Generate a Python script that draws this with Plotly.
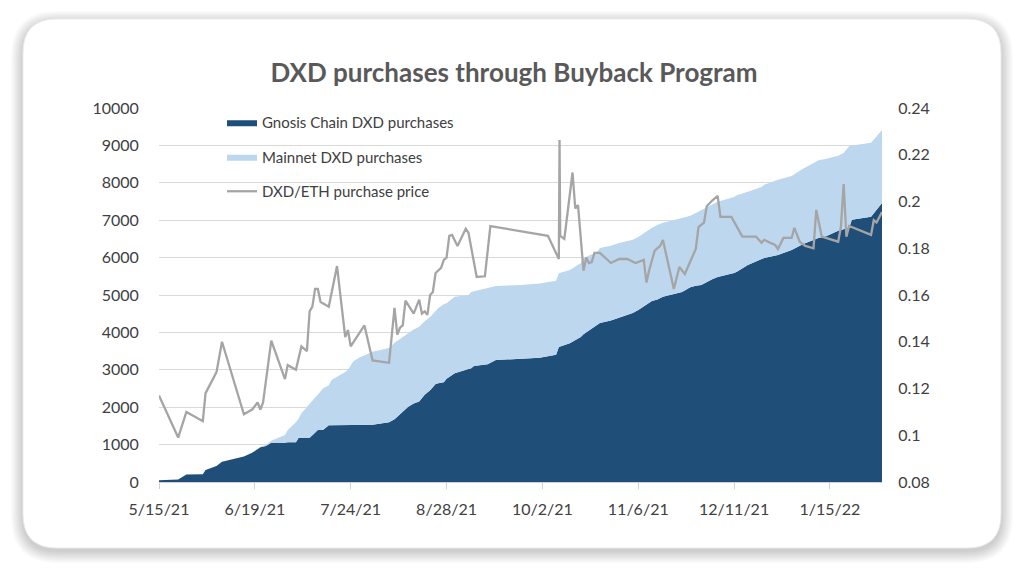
import plotly.graph_objects as go

# Cumulative purchases (DXD), stacked: Gnosis Chain below, Mainnet on top
area_dates = [
    "2021-05-15", "2021-05-18", "2021-05-22", "2021-05-25", "2021-05-31",
    "2021-06-01", "2021-06-05", "2021-06-07", "2021-06-11", "2021-06-15",
    "2021-06-18", "2021-06-21", "2021-06-23", "2021-06-25", "2021-06-30",
    "2021-07-01", "2021-07-04", "2021-07-05", "2021-07-06", "2021-07-09",
    "2021-07-10", "2021-07-12", "2021-07-14", "2021-07-16", "2021-07-17",
    "2021-07-22", "2021-07-23", "2021-07-25", "2021-07-27", "2021-08-01",
    "2021-08-07", "2021-08-09", "2021-08-14", "2021-08-16", "2021-08-18",
    "2021-08-20", "2021-08-22", "2021-08-24", "2021-08-25", "2021-08-27",
    "2021-08-28", "2021-08-31", "2021-09-05", "2021-09-06", "2021-09-07",
    "2021-09-09", "2021-09-12", "2021-09-15", "2021-09-24", "2021-10-01",
    "2021-10-07", "2021-10-08", "2021-10-12", "2021-10-16", "2021-10-17",
    "2021-10-22", "2021-10-23", "2021-10-27", "2021-10-30", "2021-11-04",
    "2021-11-06", "2021-11-11", "2021-11-13", "2021-11-15", "2021-11-22",
    "2021-11-25", "2021-11-27", "2021-11-29", "2021-12-03", "2021-12-05",
    "2021-12-11", "2021-12-12", "2021-12-16", "2021-12-21", "2021-12-22",
    "2021-12-27", "2022-01-01", "2022-01-04", "2022-01-05", "2022-01-11",
    "2022-01-13", "2022-01-18", "2022-01-20", "2022-01-22", "2022-01-23",
    "2022-01-30", "2022-02-03",
]
gnosis = [
    50, 60, 70, 200, 210,
    320, 430, 540, 610, 680,
    780, 930, 960, 1050, 1050,
    1060, 1060, 1180, 1180, 1180,
    1250, 1390, 1400, 1520, 1520,
    1520, 1520, 1520, 1520, 1530,
    1600, 1680, 2010, 2100, 2150,
    2330, 2450, 2620, 2640, 2670,
    2760, 2910, 3020, 3040, 3100,
    3120, 3150, 3260, 3290, 3320,
    3400, 3610, 3710, 3880, 3950,
    4220, 4250, 4320, 4400, 4520,
    4600, 4840, 4880, 4950, 5080,
    5210, 5250, 5270, 5420, 5480,
    5590, 5620, 5800, 5960, 5990,
    6070, 6200, 6320, 6360, 6530,
    6550, 6720, 6770, 6800, 7010,
    7090, 7460,
]
total = [
    50, 60, 70, 200, 210,
    320, 430, 540, 610, 680,
    780, 940, 990, 1100, 1260,
    1390, 1600, 1700, 1840, 2100,
    2190, 2350, 2510, 2590, 2730,
    2940, 3000, 3230, 3320, 3480,
    3580, 3720, 3980, 4080, 4150,
    4300, 4410, 4560, 4650, 4750,
    4780, 4950, 5000, 5080, 5100,
    5130, 5180, 5240, 5270, 5310,
    5380, 5580, 5670, 5850, 5990,
    6150, 6260, 6320, 6390, 6480,
    6550, 6800, 6870, 6930, 7060,
    7120, 7190, 7270, 7410, 7490,
    7620, 7670, 7760, 7890, 7950,
    8080, 8180, 8340, 8370, 8610,
    8630, 8720, 8800, 8980, 9000,
    9070, 9410,
]
mainnet = [t - g for t, g in zip(total, gnosis)]

# DXD/ETH purchase price (right axis)
price_dates = [
    "2021-05-15", "2021-05-22", "2021-05-25", "2021-05-31", "2021-06-01",
    "2021-06-05", "2021-06-07", "2021-06-15", "2021-06-18", "2021-06-20",
    "2021-06-21", "2021-06-22", "2021-06-25", "2021-06-30", "2021-07-01",
    "2021-07-04", "2021-07-06", "2021-07-08", "2021-07-09", "2021-07-10",
    "2021-07-11", "2021-07-12", "2021-07-13", "2021-07-16", "2021-07-19",
    "2021-07-22", "2021-07-23", "2021-07-24", "2021-07-29", "2021-08-01",
    "2021-08-07", "2021-08-09", "2021-08-10", "2021-08-11", "2021-08-12",
    "2021-08-13", "2021-08-16", "2021-08-18", "2021-08-19", "2021-08-20",
    "2021-08-21", "2021-08-22", "2021-08-23", "2021-08-24", "2021-08-26",
    "2021-08-27", "2021-08-28", "2021-08-29", "2021-08-30", "2021-09-01",
    "2021-09-04", "2021-09-05", "2021-09-08", "2021-09-11", "2021-09-13",
    "2021-10-04", "2021-10-08", "2021-10-08 06:00", "2021-10-08 12:00",
    "2021-10-10", "2021-10-13", "2021-10-14", "2021-10-15", "2021-10-17",
    "2021-10-18", "2021-10-19", "2021-10-20", "2021-10-21", "2021-10-23",
    "2021-10-27", "2021-10-30", "2021-11-02", "2021-11-05", "2021-11-08",
    "2021-11-09", "2021-11-10", "2021-11-12", "2021-11-14", "2021-11-15",
    "2021-11-19", "2021-11-21", "2021-11-23", "2021-11-27", "2021-11-28",
    "2021-11-30", "2021-12-01", "2021-12-03", "2021-12-05", "2021-12-06",
    "2021-12-10", "2021-12-14", "2021-12-19", "2021-12-21", "2021-12-22",
    "2021-12-24", "2021-12-26", "2021-12-27", "2021-12-29", "2022-01-01",
    "2022-01-02", "2022-01-04", "2022-01-06", "2022-01-09", "2022-01-10",
    "2022-01-12", "2022-01-18", "2022-01-19", "2022-01-20", "2022-01-21",
    "2022-01-22", "2022-01-30", "2022-01-31", "2022-02-01", "2022-02-03",
]
price = [
    0.117, 0.099, 0.110, 0.106, 0.118,
    0.127, 0.140, 0.109, 0.111, 0.114,
    0.111, 0.114, 0.1405, 0.124, 0.130,
    0.128, 0.138, 0.136, 0.153, 0.155,
    0.1626, 0.1626, 0.157, 0.155, 0.1724,
    0.142, 0.145, 0.138, 0.147, 0.132,
    0.131, 0.1545, 0.143, 0.146, 0.147,
    0.1576, 0.152, 0.158, 0.152, 0.153,
    0.1515, 0.160, 0.1613, 0.1694, 0.1716,
    0.175, 0.176, 0.1853, 0.1857, 0.181,
    0.1883, 0.1866, 0.1677, 0.168, 0.1895,
    0.1853, 0.1754, 0.2263, 0.1853,
    0.184, 0.2124, 0.197, 0.1985, 0.1704,
    0.176, 0.1737, 0.1741, 0.178, 0.178,
    0.1737, 0.1754, 0.1754, 0.1737, 0.175,
    0.1653, 0.1707, 0.179, 0.181, 0.1835,
    0.1626, 0.172, 0.169, 0.1797, 0.189,
    0.191, 0.198, 0.2004, 0.2024, 0.1934,
    0.1934, 0.185, 0.185, 0.1823, 0.1836,
    0.1824, 0.1814, 0.1797, 0.1844, 0.1844,
    0.1887, 0.1827, 0.181, 0.180, 0.1964,
    0.185, 0.1828, 0.1892, 0.2075, 0.1849,
    0.1895, 0.1857, 0.192, 0.191, 0.1955,
]

x_tickvals = ["2021-05-15", "2021-06-19", "2021-07-24", "2021-08-28",
              "2021-10-02", "2021-11-06", "2021-12-11", "2022-01-15"]
x_ticktext = ["5/15/21", "6/19/21", "7/24/21", "8/28/21",
              "10/2/21", "11/6/21", "12/11/21", "1/15/22"]
y2_tickvals = [0.08, 0.10, 0.12, 0.14, 0.16, 0.18, 0.20, 0.22, 0.24]
y2_ticktext = ["0.08", "0.1", "0.12", "0.14", "0.16", "0.18", "0.2", "0.22", "0.24"]

navy = "#1F4E79"
light_blue = "#BDD7EE"
grey_line = "#A5A5A5"
text_col = "#404040"
font_family = "Lato, 'Open Sans', sans-serif"

# the page body adds an 8px margin, so the figure is drawn 8px smaller
OFF = 8
W, H = 1024 - OFF, 576 - OFF
# plot area in page pixels
L, R, T, B = 159, 882, 108, 482


def to_paper(px, py):
    return (px - L) / (R - L), (B - py) / (B - T)


def rounded_rect(x0, y0, x1, y1, r):
    # path in paper coords with rounded corners (r in px)
    def p(px, py):
        x, y = to_paper(px, py)
        return f"{x:.5f},{y:.5f}"
    pts = [
        "M" + p(x0 + r, y0),
        "L" + p(x1 - r, y0),
        "Q" + p(x1, y0) + " " + p(x1, y0 + r),
        "L" + p(x1, y1 - r),
        "Q" + p(x1, y1) + " " + p(x1 - r, y1),
        "L" + p(x0 + r, y1),
        "Q" + p(x0, y1) + " " + p(x0, y1 - r),
        "L" + p(x0, y0 + r),
        "Q" + p(x0, y0) + " " + p(x0 + r, y0),
    ]
    return " ".join(pts) + " Z"


shapes = []
# soft shadow under the card
for i in range(12, 0, -1):
    shapes.append(dict(
        type="path", xref="paper", yref="paper", layer="below",
        path=rounded_rect(23 - i, 19 - i + 4, 1001 + i, 548 + i + 3, 34 + i),
        fillcolor="rgba(0,0,0,0.016)", line=dict(width=0),
    ))
shapes.append(dict(
    type="path", xref="paper", yref="paper", layer="below",
    path=rounded_rect(23, 19, 1001, 548, 34),
    fillcolor="white", line=dict(color="#ECECEC", width=1),
))

fig = go.Figure()
fig.add_trace(go.Scatter(
    x=area_dates, y=gnosis, name="Gnosis Chain DXD purchases",
    mode="lines", line=dict(width=0, color=navy), fillcolor=navy,
    stackgroup="buy", legendgroup="g1",
))
fig.add_trace(go.Scatter(
    x=area_dates, y=mainnet, name="Mainnet DXD purchases",
    mode="lines", line=dict(width=0, color=light_blue), fillcolor=light_blue,
    stackgroup="buy", legendgroup="g2",
))
fig.add_trace(go.Scatter(
    x=price_dates, y=price, name="DXD/ETH purchase price",
    mode="lines", line=dict(width=2.3, color=grey_line),
    yaxis="y2", legendgroup="g3",
))

fig.update_layout(
    width=W, height=H,
    margin=dict(l=L - OFF, r=W - (R - OFF), t=T - OFF, b=H - (B - OFF)),
    paper_bgcolor="white",
    plot_bgcolor="rgba(0,0,0,0)",
    shapes=shapes,
    font=dict(family=font_family, size=15, color=text_col),
    title=dict(
        text="<b>DXD purchases through Buyback Program</b>",
        x=(514 - L) / (R - L), xref="paper", xanchor="center",
        y=1 - (73 - OFF) / H, yanchor="middle",
        font=dict(family=font_family, size=26, color="#595959"),
    ),
    showlegend=True,
    legend=dict(
        x=(222 - L) / (R - L), y=1 + 2 / (B - T), xanchor="left", yanchor="top",
        bgcolor="rgba(0,0,0,0)", traceorder="grouped", tracegroupgap=12,
        font=dict(size=15, color=text_col),
    ),
    xaxis=dict(
        type="date", range=["2021-05-15", "2022-02-03"],
        tickvals=x_tickvals, ticktext=x_ticktext,
        showgrid=False, zeroline=False,
        showline=True, linecolor="#D0D0D0", linewidth=1,
        ticks="outside", ticklen=6, tickcolor="#D0D0D0",
        ticklabelstandoff=7,
        tickfont=dict(size=16, color=text_col),
        fixedrange=True,
    ),
    yaxis=dict(
        range=[0, 10000], dtick=1000, tickformat="d",
        showgrid=True, gridcolor="#D9D9D9", gridwidth=1,
        zeroline=False, showline=False,
        ticks="outside", ticklen=16, tickcolor="rgba(0,0,0,0)",
        tickfont=dict(size=16, color=text_col),
        fixedrange=True,
    ),
    yaxis2=dict(
        range=[0.08, 0.24], overlaying="y", side="right",
        tickvals=y2_tickvals, ticktext=y2_ticktext,
        showgrid=False, zeroline=False, showline=False,
        ticks="outside", ticklen=12, tickcolor="rgba(0,0,0,0)",
        tickfont=dict(size=16, color=text_col),
        fixedrange=True,
    ),
)

fig.write_html("out.html", config={"displayModeBar": False})
